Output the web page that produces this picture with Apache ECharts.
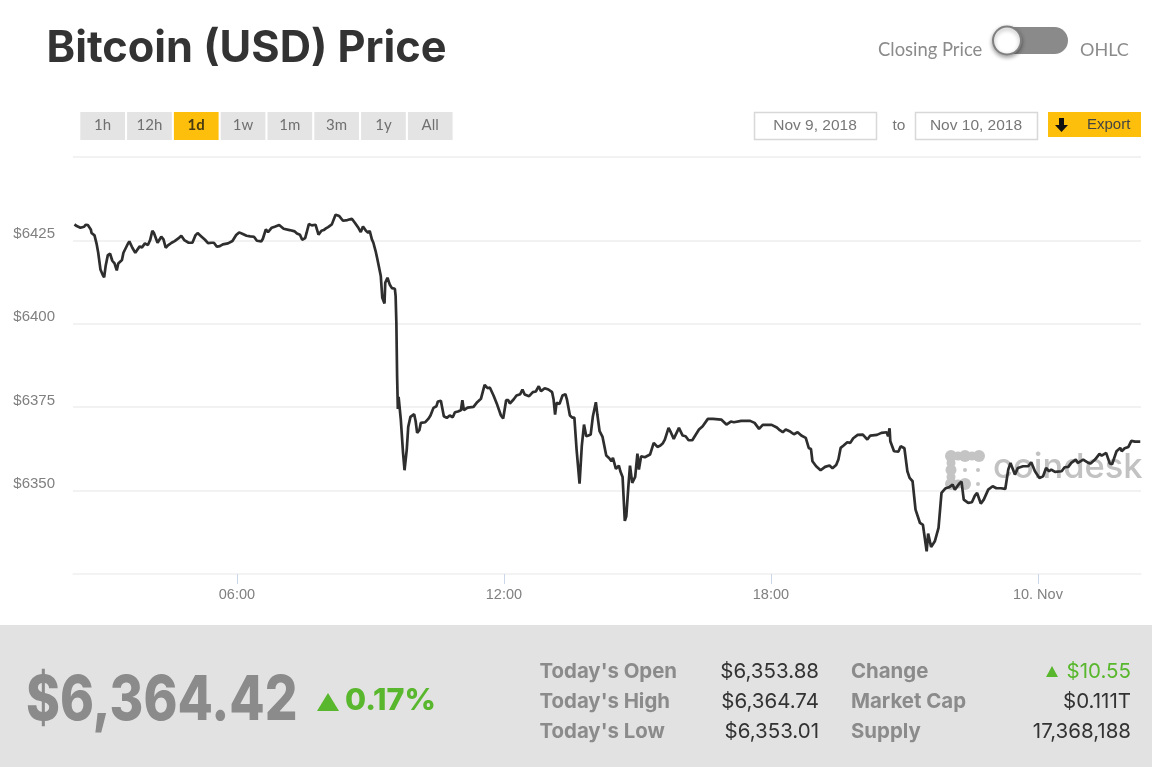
<!DOCTYPE html>
<html>
<head>
<meta charset="utf-8">
<title>Bitcoin (USD) Price</title>
<script src="https://cdn.jsdelivr.net/npm/echarts@6/dist/echarts.min.js"></script>
<style>
  html, body { margin: 0; padding: 0; background: #fff; }
  #chart { width: 1152px; height: 767px; }
</style>
</head>
<body>
<div id="chart"></div>
<script>
// minutes after midnight Nov 9
const minutes = [
  141,144,146,149,154,156,159,163,164,168,171,173,176,179,181,183,186,189,192,195,198,200,205,207,209,213,215,219,223,226,
  229,232,236,240,243,246,248,253,255,258,261,264,267,272,276,281,285,289,295,300,304,307,312,317,321,326,329,333,337,341,
  343,348,354,359,363,368,373,378,383,387,393,395,399,402,407,411,417,423,431,438,441,445,448,452,454,457,461,466,470,474,
  477,480,483,488,493,498,503,509,515,519,524,527,530,534,537,539,542,544,547,549,551,554,556,559,560,563,566,569,573,574,
  575,576,577,578,581,584,586,589,591,594,599,601,603,606,608,614,618,621,625,629,631,635,639,643,647,651,654,658,662,664,
  666,671,679,684,689,694,698,701,706,711,716,719,721,723,726,728,733,737,742,745,748,754,759,763,767,770,775,780,785,787,
  789,791,795,799,803,805,809,812,815,818,822,825,828,831,834,837,840,844,846,849,853,858,862,865,867,871,875,877,880,883,
  885,888,890,893,897,900,902,905,910,917,922,927,931,934,937,942,945,949,956,961,965,969,974,983,988,995,1002,1013,1020,1026,
  1030,1040,1052,1058,1064,1069,1076,1081,1088,1092,1096,1100,1106,1111,1116,1121,1127,1131,1134,1136,1141,1147,1153,1159,1163,1168,1171,1174,1178,1183,
  1187,1191,1197,1204,1210,1214,1223,1229,1236,1238,1240,1241,1246,1252,1255,1260,1264,1267,1271,1275,1277,1281,1285,1290,1292,1296,1301,1306,1310,1315,
  1321,1325,1328,1334,1337,1340,1346,1351,1355,1358,1363,1367,1373,1379,1384,1390,1396,1400,1403,1409,1413,1420,1427,1431,1436,1442,1447,1451,1455,1458,
  1463,1472,1476,1481,1485,1491,1494,1501,1508,1511,1517,1523,1526,1532,1537,1540,1546,1551,1553,1557,1562,1566,1571,1578
];
const prices = [
  6429.8,6429.3,6429.7,6428.8,6429.1,6429.7,6429.6,6428.3,6427.2,6426.5,6423.8,6421.3,6416.3,6414.7,6413.9,6417.3,6420.6,6421.0,6418.9,6418.1,6416.0,6418.1,6419.1,6421.3,6421.0,6424.0,6424.7,6422.8,6421.3,6422.3,
  6423.2,6422.9,6424.1,6423.6,6425.1,6427.9,6427.3,6424.3,6424.3,6426.1,6425.3,6422.8,6423.5,6424.3,6424.8,6425.6,6426.4,6425.1,6424.3,6424.3,6426.5,6427.2,6426.2,6425.2,6424.2,6424.3,6424.3,6423.1,6423.3,6423.8,
  6423.4,6424.1,6424.8,6426.6,6427.4,6426.9,6426.4,6426.2,6426.1,6424.9,6424.7,6425.5,6428.3,6427.5,6428.8,6429.1,6429.6,6428.5,6428.1,6427.7,6427.1,6426.7,6425.2,6425.7,6427.3,6429.9,6429.5,6429.7,6426.7,6427.9,
  6428.1,6428.6,6429.0,6429.8,6432.7,6432.3,6430.9,6431.1,6431.5,6430.3,6428.7,6427.5,6429.2,6427.9,6427.3,6427.9,6425.3,6424.3,6421.8,6419.8,6419.8,6414.3,6407.8,6406.1,6412.3,6413.8,6411.8,6410.7,6410.5,6408.3,
  6400.3,6384.3,6374.5,6378.1,6371.3,6361.3,6356.1,6362.3,6369.1,6372.1,6372.9,6370.8,6367.3,6368.1,6370.3,6370.5,6371.5,6372.5,6374.8,6375.3,6376.7,6376.9,6372.3,6371.8,6372.5,6372.0,6373.5,6373.7,6374.1,6377.1,
  6374.1,6374.9,6375.1,6376.5,6377.5,6381.7,6380.7,6380.9,6378.5,6375.7,6372.5,6371.6,6374.3,6377.1,6377.1,6376.1,6377.3,6378.5,6378.9,6380.3,6378.8,6378.3,6379.5,6379.7,6381.3,6379.8,6380.7,6380.3,6379.5,6377.3,
  6372.8,6376.3,6376.0,6378.5,6378.9,6377.3,6372.5,6371.9,6371.9,6362.3,6352.1,6363.3,6369.8,6366.3,6366.5,6366.8,6372.3,6376.5,6372.8,6367.8,6366.1,6360.5,6359.7,6358.8,6359.8,6356.5,6357.5,6355.8,6354.1,6340.9,
  6342.3,6351.8,6357.5,6352.3,6354.1,6361.1,6356.3,6360.3,6360.0,6360.8,6364.3,6363.1,6363.5,6364.1,6365.3,6368.8,6367.5,6365.5,6368.8,6366.5,6366.3,6365.1,6365.1,6368.3,6369.3,6371.5,6371.5,6371.3,6369.8,6370.7,
  6370.5,6370.9,6370.9,6370.3,6368.5,6369.7,6369.7,6369.7,6368.9,6368.1,6367.5,6368.3,6367.7,6366.9,6367.5,6366.5,6365.8,6362.8,6362.5,6358.8,6357.3,6356.1,6357.1,6357.5,6356.7,6357.7,6359.3,6362.8,6363.5,6364.5,
  6364.3,6365.7,6366.7,6366.8,6365.3,6366.5,6366.7,6367.3,6367.5,6366.3,6368.7,6364.8,6361.8,6361.7,6363.3,6362.7,6355.8,6353.8,6352.8,6344.3,6344.8,6340.3,6339.7,6331.8,6337.1,6333.1,6334.8,6338.8,6349.3,6350.6,
  6351.1,6351.8,6350.3,6352.1,6352.7,6347.3,6346.3,6346.5,6348.5,6349.3,6346.1,6347.3,6350.3,6351.3,6350.7,6350.7,6350.5,6356.3,6358.3,6354.8,6356.8,6357.3,6357.3,6358.5,6355.8,6353.8,6354.3,6356.8,6355.8,6356.3,
  6355.6,6355.8,6357.0,6357.1,6358.3,6359.3,6358.3,6359.3,6358.3,6358.1,6359.3,6361.0,6360.5,6361.3,6358.1,6357.9,6361.8,6362.8,6361.8,6362.7,6363.1,6364.9,6364.7,6364.7
];
const xTickMinutes = [360, 720, 1080, 1440];
const xTickLabels = ['06:00', '12:00', '18:00', '10. Nov'];
const yTicks = [6350, 6375, 6400, 6425];
const ranges = ['1h', '12h', '1d', '1w', '1m', '3m', '1y', 'All'];
const statLabelsLeft = ["Today's Open", "Today's High", "Today's Low"];
const statValuesLeft = ['$6,353.88', '$6,364.74', '$6,353.01'];
const statLabelsRight = ['Change', 'Market Cap', 'Supply'];
const statValuesRight = ['$10.55', '$0.111T', '17,368,188'];

const sans = 'Lato, "Open Sans", sans-serif';
const inter = 'Inter, Lato, sans-serif';
const arial = '"Liberation Sans", Arial, sans-serif';
const GREEN = '#58b72c';
const GREY = '#8b8b8b';

function label(text, x, y, size, fill, opts) {
  const o = opts || {};
  return {
    type: 'text',
    z: o.z || 5,
    scaleX: o.scaleX || 1,
    originX: x,
    originY: y,
    style: {
      text,
      x,
      y,
      fill,
      font: `${o.weight || 'normal'} ${size}px ${o.family || sans}`,
      align: o.align || 'left',
      verticalAlign: 'middle',
    },
  };
}

function box(x, y, width, height, fill, stroke) {
  return {
    type: 'rect',
    z: 4,
    shape: { x, y, width, height },
    style: { fill, stroke: stroke || null, lineWidth: stroke ? 1.5 : 0 },
  };
}

const graphics = [
  label('Bitcoin (USD) Price', 46.5, 49, 43.3, '#333333', { weight: 700, family: inter }),
  label('Closing Price', 878, 50, 18.4, GREY),
  label('OHLC', 1080, 50, 18, GREY),
  {
    type: 'rect',
    z: 4,
    shape: { x: 993, y: 27, width: 75, height: 27, r: 13.5 },
    style: { fill: '#8a8a8a' },
  },
  {
    type: 'circle',
    z: 5,
    shape: { cx: 1007, cy: 40.5, r: 14 },
    style: { fill: '#ffffff', stroke: '#808080', lineWidth: 2, shadowBlur: 4, shadowOffsetY: 2, shadowColor: 'rgba(0,0,0,0.35)' },
  },
  box(754.5, 112.5, 122, 27, '#ffffff', '#d8d8d8'),
  label('Nov 9, 2018', 815, 125.5, 15.5, '#777777', { family: arial, align: 'center' }),
  label('to', 899, 125.5, 15.5, '#777777', { family: arial, align: 'center' }),
  box(915.5, 112.5, 122, 27, '#ffffff', '#d8d8d8'),
  label('Nov 10, 2018', 976, 125.5, 15.5, '#777777', { family: arial, align: 'center' }),
  box(1048, 112, 93, 25, '#fdbf0c'),
  {
    type: 'polygon',
    z: 5,
    shape: { points: [[1059, 118], [1064, 118], [1064, 125], [1068, 125], [1061.5, 132], [1055, 125], [1059, 125]] },
    style: { fill: '#111111' },
  },
  label('Export', 1087, 125, 15, '#444444', { family: arial }),
  // footer band
  box(0, 625, 1152, 142, '#e2e2e2'),
  label('$6,364.42', 26, 701, 62, GREY, { weight: 800, family: inter, scaleX: 0.83 }),
  {
    type: 'polygon',
    z: 5,
    shape: { points: [[317, 711], [339, 711], [328, 693]] },
    style: { fill: GREEN },
  },
  label('0.17%', 345, 701, 30.5, GREEN, { weight: 800, family: inter }),
  {
    type: 'polygon',
    z: 5,
    shape: { points: [[1046, 677], [1058, 677], [1052, 666]] },
    style: { fill: GREEN },
  },
];

// range buttons
ranges.forEach((name, i) => {
  const x = 80.3 + i * 46.8;
  const active = name === '1d';
  graphics.push(box(x, 112, 44.7, 28, active ? '#fdbf0c' : '#e4e4e4'));
  graphics.push(label(name, x + 22.3, 125, 15, active ? '#4a3c10' : '#707070', { align: 'center', weight: active ? 'bold' : 'normal' }));
});

// stats table
[672, 702, 732].forEach((y, i) => {
  graphics.push(label(statLabelsLeft[i], 539.5, y, 20.4, GREY, { weight: 700, family: inter }));
  graphics.push(label(statValuesLeft[i], 819, y, 20.5, '#333333', { align: 'right', family: inter }));
  graphics.push(label(statLabelsRight[i], 851, y, 20.4, GREY, { weight: 700, family: inter }));
  graphics.push(label(statValuesRight[i], 1131, y, 20.5, i === 0 ? GREEN : '#333333', { align: 'right', family: inter }));
});

// coindesk watermark, sits under the line
const logoDots = [
  [951, 456, 6], [958, 456, 4.5], [965, 456, 6], [972, 456, 4.5], [979, 456, 6],
  [951, 463, 4.5], [951, 470, 5.5], [951, 477, 4.5], [951, 484, 6], [958, 484, 4.5], [965, 484, 6],
  [965, 470, 2], [978, 470, 2], [978, 484, 2],
];
logoDots.forEach((d) => {
  graphics.push({ type: 'circle', z: 1, shape: { cx: d[0], cy: d[1], r: d[2] }, style: { fill: '#c4c4c4' } });
});
graphics.push(label('coindesk', 993, 468, 34.5, '#c2c2c2', { z: 1, weight: 500, family: inter }));

const chart = echarts.init(document.getElementById('chart'));
chart.setOption({
  animation: false,
  backgroundColor: '#ffffff',
  grid: { left: 73, top: 157, width: 1068, height: 417 },
  xAxis: {
    type: 'value',
    min: 139,
    max: 1579,
    axisLine: { lineStyle: { color: '#f3f3f3', width: 1.5 } },
    axisTick: {
      length: 10,
      lineStyle: { color: '#ccd6eb' },
      customValues: xTickMinutes,
    },
    splitLine: { show: false },
    axisLabel: {
      customValues: xTickMinutes,
      formatter: (value) => xTickLabels[xTickMinutes.indexOf(value)],
      fontFamily: arial,
      fontSize: 14.5,
      color: '#808080',
      margin: 13,
    },
  },
  yAxis: {
    type: 'value',
    min: 6325,
    max: 6450,
    interval: 25,
    axisLine: { show: false },
    axisTick: { show: false },
    splitLine: { lineStyle: { color: '#eeeeee', width: 1.5 } },
    axisLabel: {
      formatter: (value) => (yTicks.includes(value) ? `$${value}` : ''),
      fontFamily: arial,
      fontSize: 15,
      color: '#808080',
      align: 'right',
      verticalAlign: 'bottom',
      margin: 18,
      padding: [0, 0, -1, 0],
    },
  },
  series: [
    {
      type: 'line',
      showSymbol: false,
      lineStyle: { color: '#2e2e2e', width: 2.7 },
      data: minutes.map((m, i) => [m, prices[i]]),
    },
  ],
  graphic: { elements: graphics },
});
</script>
</body>
</html>
